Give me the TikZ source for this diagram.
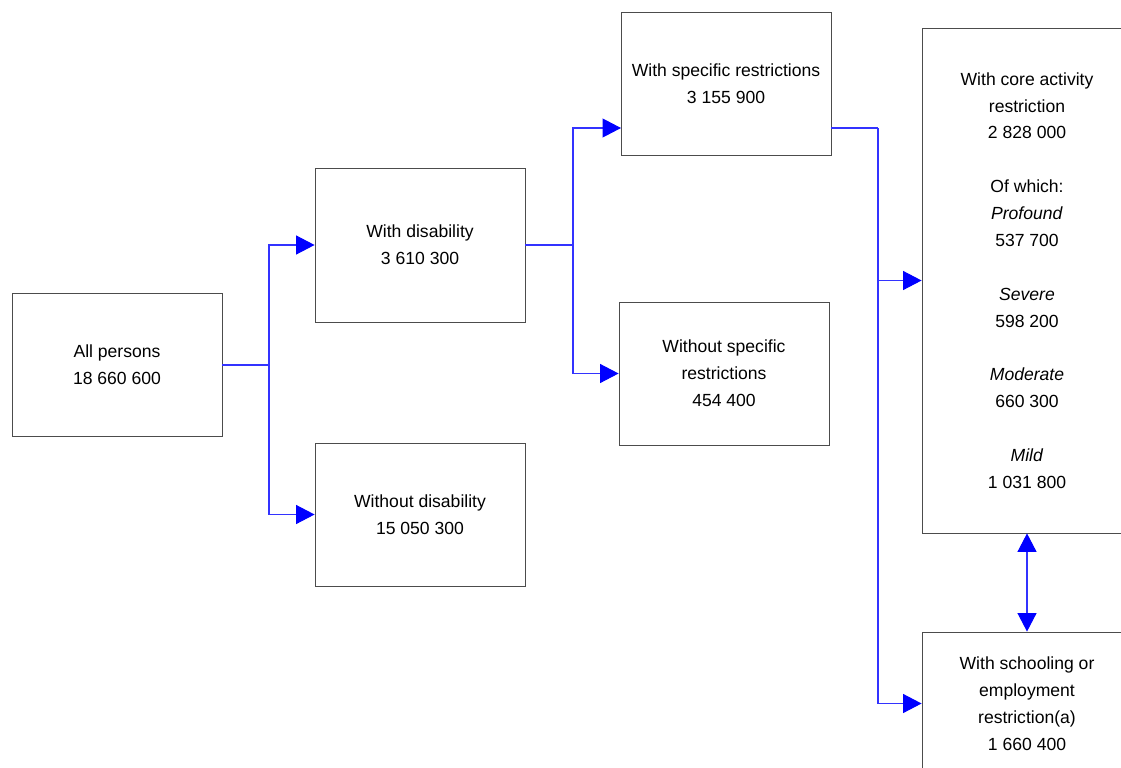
\documentclass[tikz,border=0pt]{standalone}
\usepackage{fontspec}
\setmainfont{Liberation Sans}
\usetikzlibrary{arrows.meta}
\begin{document}
\begin{tikzpicture}[
    x=0.02cm, y=-0.02cm,
    box/.style={draw=black!70, line width=0.5pt, align=center, minimum width=4.2cm, minimum height=2.86cm, inner sep=0pt, font=\fontsize{10}{15.3}\selectfont},
    link/.style={color=blue!80!white, line width=0.6pt},
    arrow/.style={link, -{Triangle[length=0.37cm, width=0.38cm, color=blue]}},
    twoway/.style={link, {Triangle[length=0.37cm, width=0.38cm, color=blue]}-{Triangle[length=0.37cm, width=0.38cm, color=blue]}}
]
\useasboundingbox (0,0) rectangle (1121,767);
\clip (0,0) rectangle (1121,767);

\node[box] at (117,365) (all) {All persons\\18 660 600};
\node[box, minimum height=3.08cm] at (420,245) (withdis) {With disability\\3 610 300};
\node[box] at (420,514.5) (nodis) {Without disability\\15 050 300};
\node[box] at (726,83.5) (specific) {With specific restrictions\\3 155 900};
\node[box] at (724,373.5) (nospecific) {Without specific\\restrictions\\454 400};
\node[box, minimum height=10.1cm] at (1027,280.5) (core) {With core activity\\restriction\\2 828 000\\[15.3pt]Of which:\\\textit{Profound}\\537 700\\[15.3pt]\textit{Severe}\\598 200\\[15.3pt]\textit{Moderate}\\660 300\\[15.3pt]\textit{Mild}\\1 031 800};
\node[box] at (1027,703.5) (school) {With schooling or\\employment\\restriction(a)\\1 660 400};

\coordinate (split1) at (269,365);
\coordinate (split2) at (573,245);
\coordinate (split3) at (878,128);
\coordinate (specin) at (621,128);

\draw[link] (all) -- (split1);
\draw[arrow] (split1) |- (withdis);
\draw[arrow] (split1) |- (nodis);
\draw[link] (withdis) -- (split2);
\draw[arrow] (split2) |- (specin);
\draw[arrow] (split2) |- (nospecific);
\draw[link] (specific.east |- split3) -- (split3);
\draw[arrow] (split3) |- (core);
\draw[arrow] (split3) |- (school);
\draw[twoway] (core) -- (school);
\end{tikzpicture}
\end{document}
